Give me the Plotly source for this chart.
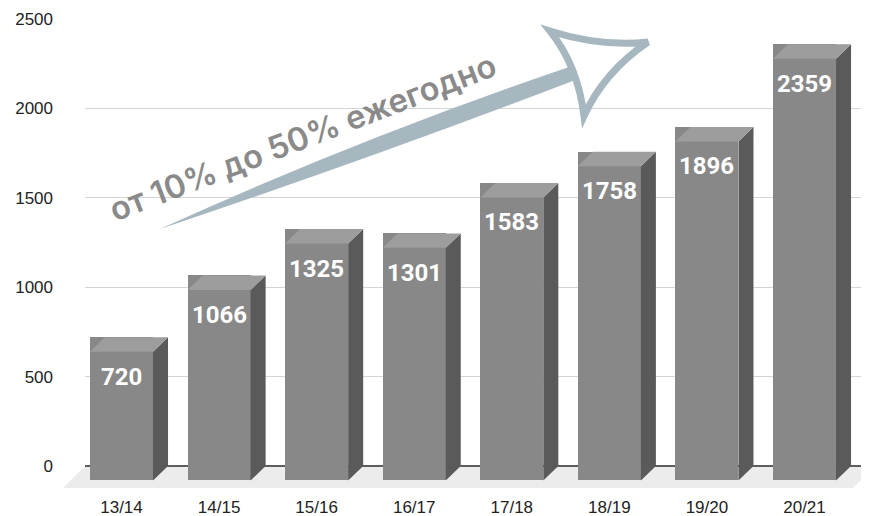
import plotly.graph_objects as go

# ---- data ----
categories = ["13/14", "14/15", "15/16", "16/17", "17/18", "18/19", "19/20", "20/21"]
values = [720, 1066, 1325, 1301, 1583, 1758, 1896, 2359]
y_ticks = [0, 500, 1000, 1500, 2000, 2500]
note_text = "от 10% до 50% ежегодно"

# ---- style / geometry ----
OFF = 8                 # page body margin compensation
W, H = 869 - OFF, 516
ML, MR, MT, MB = 85 - OFF, 4, 19 - OFF, 29
PW, PH = W - ML - MR, H - MT - MB
Y_MIN, Y_MAX = -162.2, 2500
X_MIN, X_MAX = -0.374, 7.62
BAR_W = 0.646          # front face width (x units)
DX = 0.154             # depth offset in x units (~15 px)
DY = 81                # depth offset in y units (~14.5 px)

FRONT = "#888888"
SIDE = "#5a5a5a"
TOP = "#9d9d9d"
FLOOR = "#ececec"
ARROW = "#a6b7bf"


def px(xp):
    return (xp - OFF - ML) / PW


def py(yp):
    return (MT + PH - (yp - OFF)) / PH


def q(p):
    return f"{px(p[0]):.5f},{py(p[1]):.5f}"


def ppath(points):
    return "M " + " L ".join(q(p) for p in points) + " Z"


idx = list(range(len(categories)))
fig = go.Figure()

# front faces
fig.add_trace(go.Bar(
    x=idx,
    y=[v + DY for v in values],
    base=[-DY] * len(values),
    width=BAR_W,
    marker=dict(color=FRONT, line=dict(width=0)),
    hoverinfo="skip",
    showlegend=False,
))

shapes = []
# floor
shapes.append(dict(type="path", xref="paper", yref="paper", layer="below",
                   path=ppath([(63, 488), (85, 466), (875, 466), (853, 488)]),
                   fillcolor=FLOOR, line=dict(width=0)))

for i, v in zip(idx, values):
    xr = i + BAR_W / 2
    xl = i - BAR_W / 2
    # side face
    shapes.append(dict(type="path", xref="x", yref="y", layer="above",
                       path=f"M {xr},{-DY} L {xr + DX},0 L {xr + DX},{v} L {xr},{v - DY} Z",
                       fillcolor=SIDE, line=dict(width=0)))
    # top face
    shapes.append(dict(type="path", xref="x", yref="y", layer="above",
                       path=f"M {xl},{v - DY} L {xl + DX},{v} L {xr + DX},{v} L {xr},{v - DY} Z",
                       fillcolor=TOP, line=dict(width=0)))

# arrow shaft (tapered)
shaft = (f"M {q((160, 229))} Q {q((360, 138))} {q((572, 66))} "
         f"L {q((578, 79))} Q {q((372, 158))} {q((160, 229))} Z")
shapes.append(dict(type="path", xref="paper", yref="paper", layer="above",
                   path=shaft, fillcolor=ARROW, line=dict(width=0)))

# arrow head (hand-drawn open triangle)
A, B, C = (550, 31), (648, 42), (584, 116)
head = (f"M {q(A)} Q {q((600, 47))} {q(B)} Q {q((604, 72))} {q(C)} "
        f"Q {q((578, 66))} {q(A)} Z")
shapes.append(dict(type="path", xref="paper", yref="paper", layer="above",
                   path=head, fillcolor="rgba(0,0,0,0)",
                   line=dict(color=ARROW, width=7)))

annotations = []
for i, v in zip(idx, values):
    annotations.append(dict(x=i, y=v - DY, xref="x", yref="y", text=str(v),
                            showarrow=False, xanchor="center", yanchor="middle", yshift=-25,
                            font=dict(family="Roboto", size=24, color="white", weight="bold")))

annotations.append(dict(x=px(302), y=py(137), xref="paper", yref="paper",
                        xanchor="center", yanchor="middle",
                        text=note_text, showarrow=False, textangle=-21,
                        font=dict(family="Inter", size=32.5, color="#8a8a8a", weight=600)))

fig.update_layout(
    width=W, height=H,
    margin=dict(l=ML, r=MR, t=MT, b=MB, autoexpand=False),
    paper_bgcolor="white", plot_bgcolor="white",
    shapes=shapes, annotations=annotations,
    bargap=0,
    xaxis=dict(range=[X_MIN, X_MAX], tickvals=idx, ticktext=categories,
               showgrid=False, zeroline=False, showline=False, ticks="",
               automargin=False,
               tickfont=dict(family="Liberation Sans", size=17, color="#222222"),
               ticklabelstandoff=0, fixedrange=True),
    yaxis=dict(range=[Y_MIN, Y_MAX], tickvals=y_ticks, ticktext=[str(t) for t in y_ticks],
               showgrid=True, gridcolor="#d4d4d4", gridwidth=1,
               zeroline=True, zerolinecolor="#5e5e5e", zerolinewidth=1.5,
               showline=False, ticks="", automargin=False,
               tickfont=dict(family="Liberation Sans", size=17, color="#222222"),
               ticklabelstandoff=31, fixedrange=True),
)

fig.write_html("out.html")
